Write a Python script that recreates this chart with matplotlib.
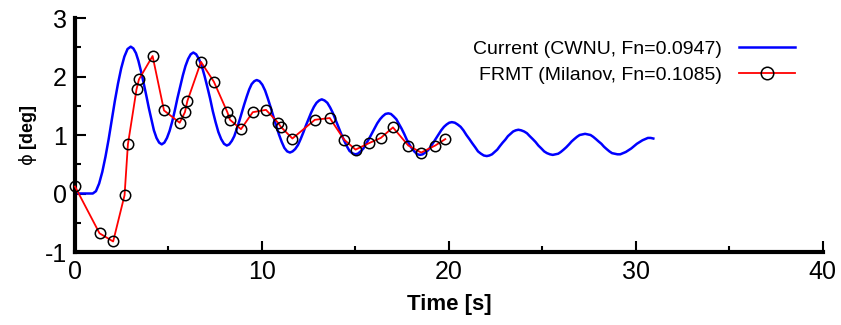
import matplotlib
matplotlib.use('Agg')
import matplotlib.pyplot as plt
from matplotlib.ticker import MultipleLocator

plt.rcParams['font.family'] = ['Liberation Sans', 'DejaVu Sans']
plt.rcParams['axes.unicode_minus'] = False

# Current (CWNU), one row per half swing
t_cur = [0.0, 0.5, 0.95,
         1.12, 1.29, 1.46, 1.63, 1.80, 1.97, 2.13, 2.30, 2.47, 2.64, 2.81, 2.98,
         3.12, 3.26, 3.39, 3.53, 3.67, 3.81, 3.95, 4.09, 4.22, 4.36, 4.50, 4.64,
         4.78, 4.92, 5.06, 5.20, 5.34, 5.48, 5.63, 5.77, 5.91, 6.05, 6.19, 6.33,
         6.48, 6.63, 6.78, 6.93, 7.08, 7.23, 7.37, 7.52, 7.67, 7.82, 7.97, 8.12,
         8.25, 8.39, 8.52, 8.65, 8.79, 8.92, 9.05, 9.19, 9.32, 9.45, 9.59, 9.72,
         9.87, 10.02, 10.17, 10.31, 10.46, 10.61, 10.76, 10.91, 11.06, 11.20, 11.35, 11.50,
         11.64, 11.78, 11.93, 12.07, 12.21, 12.35, 12.49, 12.63, 12.78, 12.92, 13.06, 13.20,
         13.35, 13.50, 13.65, 13.79, 13.94, 14.09, 14.24, 14.39, 14.54, 14.68, 14.83, 14.98,
         15.13, 15.28, 15.43, 15.57, 15.72, 15.87, 16.02, 16.17, 16.32, 16.46, 16.61, 16.76,
         16.90, 17.04, 17.19, 17.33, 17.47, 17.61, 17.75, 17.89, 18.04, 18.18, 18.32, 18.46,
         18.60, 18.74, 18.89, 19.03, 19.17, 19.31, 19.45, 19.59, 19.74, 19.88, 20.02, 20.16,
         20.32, 20.47, 20.63, 20.78, 20.94, 21.10, 21.25, 21.41, 21.56, 21.72, 21.87, 22.03,
         22.17, 22.31, 22.45, 22.59, 22.73, 22.88, 23.02, 23.16, 23.30, 23.44, 23.58, 23.72,
         23.87, 24.03, 24.18, 24.33, 24.49, 24.64, 24.79, 24.95, 25.10, 25.25, 25.41, 25.56,
         25.70, 25.85, 25.99, 26.14, 26.28, 26.43, 26.57, 26.71, 26.86, 27.00, 27.15, 27.29,
         27.43, 27.58, 27.72, 27.87, 28.01, 28.16, 28.30, 28.44, 28.59, 28.73, 28.88, 29.02,
         29.17, 29.32, 29.47, 29.61, 29.76, 29.91, 30.06, 30.21, 30.36, 30.50, 30.65, 30.80,
         30.94]
phi_cur = [0.0, 0.0, 0.0,
           0.04, 0.17, 0.37, 0.63, 0.93, 1.26, 1.58, 1.88, 2.14, 2.34, 2.47, 2.51,
           2.48, 2.40, 2.27, 2.09, 1.89, 1.68, 1.46, 1.26, 1.08, 0.95, 0.87, 0.84,
           0.87, 0.95, 1.07, 1.23, 1.42, 1.63, 1.83, 2.02, 2.18, 2.30, 2.38, 2.41,
           2.38, 2.30, 2.18, 2.01, 1.82, 1.62, 1.41, 1.22, 1.05, 0.93, 0.85, 0.82,
           0.84, 0.90, 0.98, 1.10, 1.24, 1.38, 1.52, 1.66, 1.78, 1.87, 1.92, 1.94,
           1.92, 1.86, 1.76, 1.63, 1.48, 1.32, 1.16, 1.01, 0.88, 0.78, 0.72, 0.70,
           0.72, 0.76, 0.83, 0.93, 1.04, 1.16, 1.27, 1.38, 1.48, 1.55, 1.59, 1.61,
           1.59, 1.55, 1.47, 1.38, 1.26, 1.14, 1.02, 0.91, 0.81, 0.73, 0.69, 0.67,
           0.68, 0.72, 0.77, 0.85, 0.93, 1.02, 1.11, 1.20, 1.27, 1.32, 1.36, 1.37,
           1.36, 1.32, 1.27, 1.19, 1.11, 1.02, 0.92, 0.84, 0.76, 0.71, 0.67, 0.66,
           0.67, 0.70, 0.74, 0.80, 0.87, 0.94, 1.01, 1.08, 1.14, 1.18, 1.21, 1.22,
           1.21, 1.18, 1.14, 1.08, 1.00, 0.93, 0.86, 0.79, 0.72, 0.68, 0.65, 0.64,
           0.65, 0.67, 0.71, 0.75, 0.81, 0.87, 0.92, 0.98, 1.02, 1.06, 1.08, 1.09,
           1.08, 1.06, 1.03, 0.98, 0.93, 0.88, 0.82, 0.77, 0.72, 0.69, 0.67, 0.66,
           0.67, 0.68, 0.71, 0.75, 0.79, 0.84, 0.89, 0.93, 0.97, 1.00, 1.01, 1.02,
           1.01, 1.00, 0.97, 0.93, 0.89, 0.85, 0.80, 0.76, 0.72, 0.69, 0.68, 0.67,
           0.67, 0.69, 0.71, 0.74, 0.77, 0.81, 0.85, 0.88, 0.91, 0.93, 0.95, 0.95,
           0.94]

# FRMT (Milanov)
t_frmt = [0.0, 1.31, 2.04, 2.65, 2.83, 3.29, 3.42, 4.15, 4.76, 5.60, 5.88,
          6.01, 6.74, 7.43, 8.15, 8.29, 8.88, 9.51, 10.22, 10.86, 11.01,
          11.63, 12.83, 13.63, 14.40, 15.01, 15.72, 16.36, 17.01, 17.83,
          18.52, 19.27, 19.81]
phi_frmt = [0.12, -0.68, -0.82, -0.03, 0.84, 1.78, 1.95, 2.35, 1.42, 1.21,
            1.39, 1.58, 2.25, 1.91, 1.39, 1.26, 1.10, 1.39, 1.43, 1.21, 1.14,
            0.94, 1.26, 1.29, 0.92, 0.75, 0.86, 0.95, 1.13, 0.82, 0.70, 0.82,
            0.93]

fig = plt.figure(figsize=(8.41, 3.25), dpi=100)
ax = fig.add_axes([0.0892, 0.2246, 0.889, 0.72])

ax.plot(t_cur, phi_cur, color='#0000ff', lw=1.8, solid_joinstyle='round',
        label='Current (CWNU, Fn=0.0947)')
ax.plot(t_frmt, phi_frmt, color='#ff0000', lw=1.3, marker='o', ms=7.5,
        mfc='none', mec='black', mew=1.1, clip_on=False, zorder=5,
        label='FRMT (Milanov, Fn=0.1085)')

ax.set_xlim(0, 40)
ax.set_ylim(-1, 3)
ax.xaxis.set_major_locator(MultipleLocator(10))
ax.xaxis.set_minor_locator(MultipleLocator(5))
ax.yaxis.set_major_locator(MultipleLocator(1))
ax.yaxis.set_minor_locator(MultipleLocator(0.5))

ax.spines['top'].set_visible(False)
ax.spines['right'].set_visible(False)
ax.spines['left'].set_linewidth(3)
ax.spines['bottom'].set_linewidth(3)
ax.tick_params(which='both', direction='in', width=1.5)
ax.tick_params(which='major', length=8, labelsize=18, pad=6)
ax.tick_params(which='minor', length=4)

ax.set_xlabel('Time [s]', fontsize=16, fontweight='bold', labelpad=7)
ax.set_ylabel(r'$\mathrm{\phi}$ [deg]', fontsize=13, fontweight='bold',
              labelpad=4)

fig.legend(loc='upper right', bbox_to_anchor=(0.957, 0.905), frameon=False,
           markerfirst=False, fontsize=14, handlelength=2.9,
           handletextpad=0.85, borderpad=0, labelspacing=0.4,
           markerscale=1.2)

fig.savefig('out.png', dpi=100)
